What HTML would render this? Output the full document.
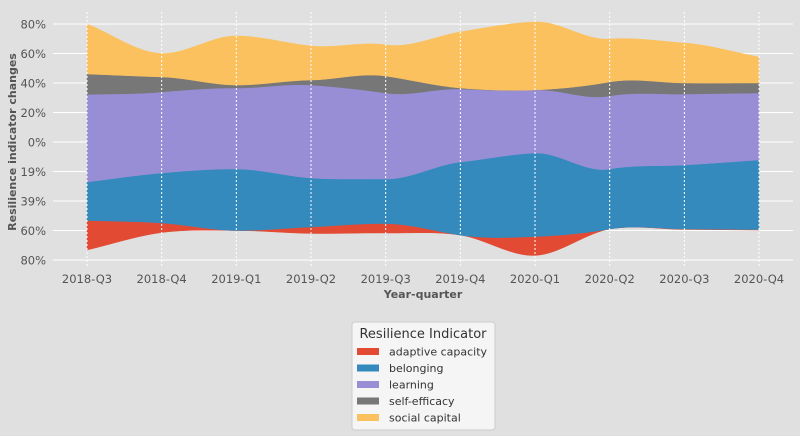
<!DOCTYPE html>
<html><head><meta charset="utf-8"><style>
html,body{margin:0;padding:0;background:#e0e0e0;}
svg{display:block;font-family:"DejaVu Sans","Liberation Sans",sans-serif;}
</style></head><body>
<svg id="chart" width="800" height="436"></svg>
<script>
const categories = ["2018-Q3","2018-Q4","2019-Q1","2019-Q2","2019-Q3","2019-Q4","2020-Q1","2020-Q2","2020-Q3","2020-Q4"];
const baseline = [-73.2,-61.4,-60.0,-62.0,-61.7,-63.1,-76.9,-59.0,-59.3,-59.7];
const adaptiveCapacity = [20.0,6.5,0.0,4.4,6.4,0.0,12.8,0.0,0.3,0.3];
const belonging = [26.1,33.9,41.7,33.2,30.2,49.5,56.6,40.7,43.4,47.2];
const learning = [59.3,54.9,54.9,63.0,58.3,49.5,42.8,49.5,48.1,45.4];
const selfEfficacy = [13.9,10.2,2.0,3.4,11.5,0.7,0.0,9.5,7.5,6.8];
const socialCapital = [33.9,15.9,33.3,23.1,21.1,38.0,46.1,29.1,27.1,17.6];
const seriesNames = ["adaptive capacity","belonging","learning","self-efficacy","social capital"];
const seriesColors = ["#e24a33","#348abd","#988ed5","#777777","#fbc15e"];
const yTickValues = [80,60,40,20,0,-20,-40,-60,-80];
const yTickLabels = ["80%","60%","40%","20%","0%","19%","39%","60%","80%"];

const NS="http://www.w3.org/2000/svg";
const svg=document.getElementById('chart');
function mk(tag,attrs,parent){const e=document.createElementNS(NS,tag);for(const k in attrs)e.setAttribute(k,attrs[k]);(parent||svg).appendChild(e);return e;}
const x0=87, dx=74.67;
function xScale(i){return x0+i*dx;}
function yScale(v){return 142-v*1.475;}

// grid
yTickValues.forEach((v,i)=>{
  const l=mk('line',{x1:53,x2:793,y1:yScale(v),y2:yScale(v),stroke:'#ffffff','stroke-width':1});
  
  
  const t=mk('text',{x:46,y:yScale(v)+4.5,'text-anchor':'end','font-size':11.5,fill:'#555'});
  t.textContent=yTickLabels[i];
  
  
});

// monotone cubic interpolation
function monotone(ys){
  const n=ys.length,d=[],m=new Array(n);
  for(let i=0;i<n-1;i++)d.push(ys[i+1]-ys[i]);
  m[0]=d[0];m[n-1]=d[n-2];
  for(let i=1;i<n-1;i++){m[i]=(d[i-1]*d[i]<=0)?0:(d[i-1]+d[i])/2;}
  for(let i=0;i<n-1;i++){
    if(d[i]===0){m[i]=0;m[i+1]=0;continue;}
    const a=m[i]/d[i],b=m[i+1]/d[i],s=a*a+b*b;
    if(s>9){const t=3/Math.sqrt(s);m[i]=t*a*d[i];m[i+1]=t*b*d[i];}
  }
  return function(t){
    let i=Math.min(Math.floor(t),n-2);const h=t-i;
    const h2=h*h,h3=h2*h;
    return (2*h3-3*h2+1)*ys[i]+(h3-2*h2+h)*m[i]+(-2*h3+3*h2)*ys[i+1]+(h3-h2)*m[i+1];
  };
}
function smooth(ys){
  const n=ys.length,pts=[],m=new Array(n);
  for(let i=0;i<n;i++){const a=ys[Math.max(0,i-1)],b=ys[Math.min(n-1,i+1)];m[i]=(b-a)/((Math.min(n-1,i+1)-Math.max(0,i-1)));}
  return function(t){let i=Math.min(Math.floor(t),n-2);const h=t-i,h2=h*h,h3=h2*h;
    return (2*h3-3*h2+1)*ys[i]+(h3-2*h2+h)*m[i]+(-2*h3+3*h2)*ys[i+1]+(h3-h2)*m[i+1];};
}
const layers=[adaptiveCapacity,belonging,learning,selfEfficacy,socialCapital];
const fBase=smooth(baseline);
const fLayers=layers.map(a=>monotone(a));
const N=(categories.length-1)*20;
const samples=[];
for(let s=0;s<=N;s++){
  const t=s/20;let acc=fBase(t);const row=[acc];
  fLayers.forEach(f=>{acc+=Math.max(0,f(t));row.push(acc);});
  samples.push({x:xScale(t),row});
}
layers.forEach((arr,k)=>{
  let d='';
  samples.forEach((p,i)=>{d+=(i?'L':'M')+p.x.toFixed(2)+','+yScale(p.row[k+1]).toFixed(2);});
  for(let i=samples.length-1;i>=0;i--){d+='L'+samples[i].x.toFixed(2)+','+yScale(samples[i].row[k]).toFixed(2);}
  const p=mk('path',{d:d+'Z',fill:seriesColors[k],stroke:seriesColors[k],'stroke-width':0.5});
  
  
});

// vertical dotted grid + x ticks
categories.forEach((c,i)=>{
  const l=mk('line',{x1:xScale(i),x2:xScale(i),y1:12,y2:268,stroke:'#ffffff','stroke-width':1,'stroke-dasharray':'2,2'});
  
  
  const t=mk('text',{x:xScale(i),y:283,'text-anchor':'middle','font-size':11.5,fill:'#555'});
  t.textContent=c;
  
  
});
const xt=mk('text',{x:423,y:298,'text-anchor':'middle','font-size':11,'font-weight':'bold',fill:'#555'});
xt.textContent='Year-quarter';


const yt=mk('text',{x:0,y:0,'text-anchor':'middle','font-size':11,'font-weight':'bold',fill:'#555',transform:'translate(16,142) rotate(-90)'});
yt.textContent='Resilience indicator changes';



// legend
const lg=mk('g',{});


mk('rect',{x:352,y:322,width:143,height:108,rx:3,fill:'#f5f5f5',stroke:'#cccccc'},lg);
const lt=mk('text',{x:423,y:338,'text-anchor':'middle','font-size':13,fill:'#333'},lg);
lt.textContent='Resilience Indicator';


seriesNames.forEach((n,i)=>{
  const cy=351.5+i*16.5;
  const g=mk('g',{},lg);
  
  
  mk('rect',{x:357,y:cy-3.5,width:22,height:7,fill:seriesColors[i]},g);
  const t=mk('text',{x:389,y:cy+4,'font-size':11,fill:'#333'},g);
  t.textContent=n;
});
</script>
</body></html>
